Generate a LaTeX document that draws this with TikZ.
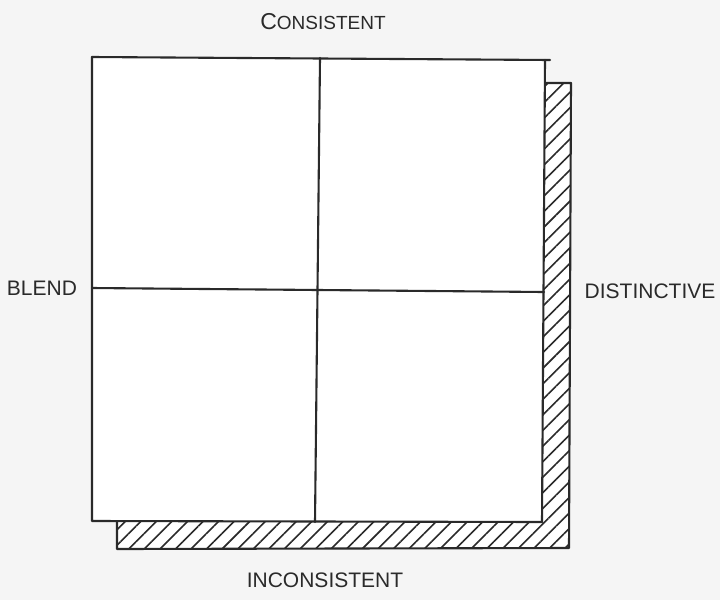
\documentclass[tikz,border=0pt]{standalone}
\usepackage{fontspec}
\setmainfont{Liberation Sans}
\usetikzlibrary{patterns.meta}
\definecolor{bg}{HTML}{F5F5F5}
\definecolor{ink}{HTML}{2A2A2A}
\tikzset{
  pen/.style={draw=ink, line width=2.1pt, line cap=round, line join=round},
  lbl/.style={text=ink, font=\fontsize{21}{23}\selectfont, inner sep=0pt},
  hatch/.style={pattern={Lines[angle=45,distance=11pt,line width=1.6pt]}, pattern color=ink}
}
\begin{document}
\begin{tikzpicture}[x=1pt,y=-1pt]
\fill[bg] (0,0) rectangle (720,600);
\useasboundingbox (0,0) rectangle (720,600);
% shadow
\coordinate (s1) at (117,83);
\coordinate (s2) at (571,83);
\coordinate (s3) at (569,548);
\coordinate (s4) at (117,549);
\fill[white] (s1) -- (s2) -- (s3) -- (s4) -- cycle;
\fill[hatch] (s1) -- (s2) -- (s3) -- (s4) -- cycle;
\draw[pen] (s1) -- (s2) -- (s3) -- (s4) -- cycle;
% main square
\coordinate (tl) at (92,57);
\coordinate (tr) at (545,60);
\coordinate (tro) at (550,60);
\coordinate (br) at (542,522);
\coordinate (bl) at (92,521);
\fill[white] (tl) -- (tr) -- (br) -- (bl) -- cycle;
\draw[pen] (tl) -- (tro);
\draw[pen] (tr) -- (br);
\draw[pen] (tl) -- (bl) -- (br);
% quadrants
\coordinate (vt) at (320,58);
\coordinate (vb) at (315,522);
\coordinate (hl) at (92,288);
\coordinate (hr) at (544,292);
\draw[pen] (vt) -- (vb);
\draw[pen] (hl) -- (hr);
% labels
\node[lbl, font=\fontsize{23}{25}\selectfont] (cons) at (323,22) {C{\fontsize{19}{21}\selectfont ONSISTENT}};
\node[lbl] (incons) at (325,580) {INCONSISTENT};
\node[lbl] (blend) at (42,288) {BLEND};
\node[lbl] (dist) at (650,291) {DISTINCTIVE};
\end{tikzpicture}
\end{document}
